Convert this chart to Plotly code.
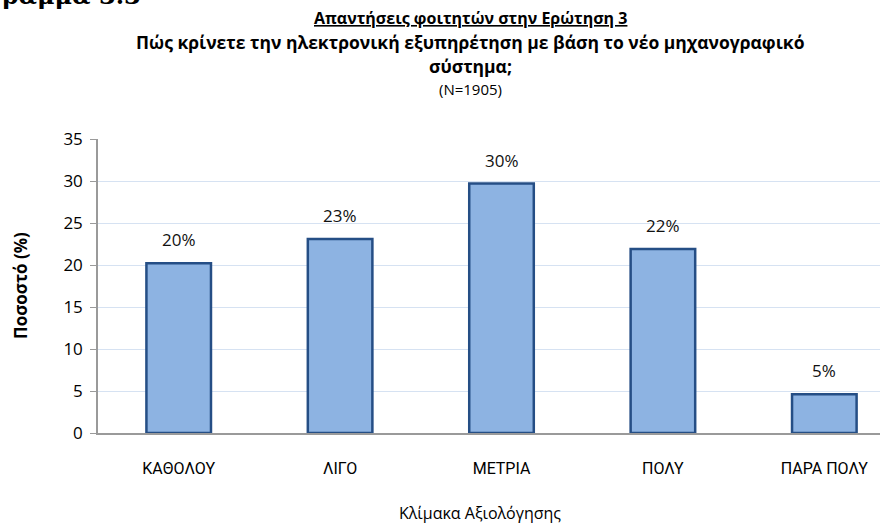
import plotly.graph_objects as go

# Survey responses, question 3 (N=1905)
categories = ["ΚΑΘΟΛΟΥ", "ΛΙΓΟ", "ΜΕΤΡΙΑ", "ΠΟΛΥ", "ΠΑΡΑ ΠΟΛΥ"]
percentages = [20.2, 23.1, 29.7, 21.9, 4.6]
y_ticks = [0, 5, 10, 15, 20, 25, 30, 35]

W, H = 880, 527
L, R, T, B = 98, 0, 139, 94
PW, PH = W - L - R, H - T - B

def px_x(px):
    return (px - L) / PW

def px_y(py):
    return (H - B - py) / PH

FONT = "Open Sans"
CAT_FONT = "Roboto"
BAR_FILL = "#8DB3E2"
BAR_LINE = "#254E85"
GRID = "#D6E2F2"

fig = go.Figure()
fig.add_trace(go.Bar(
    x=list(range(len(categories))),
    y=percentages,
    width=0.4,
    marker=dict(color=BAR_FILL, line=dict(color=BAR_LINE, width=2.5)),
    hoverinfo="skip",
))

annotations = []
for i, v in enumerate(percentages):
    annotations.append(dict(
        x=i, y=v, xref="x", yref="y", text=f"{v:.0f}%",
        showarrow=False, yanchor="bottom", yshift=10,
        font=dict(family=FONT, size=17, color="#111111"),
    ))

title_lines = [
    ("<b><u>Απαντήσεις φοιτητών στην Ερώτηση 3</u></b>", 18, 16),
    ("<b>Πώς κρίνετε την ηλεκτρονική εξυπηρέτηση με βάση το νέο μηχανογραφικό</b>", 42, 17.5),
    ("<b>σύστημα;</b>", 66, 17.5),
    ("(N=1905)", 89, 15),
]
for text, py, size in title_lines:
    annotations.append(dict(
        x=px_x(470), y=px_y(py), xref="paper", yref="paper", text=text,
        showarrow=False, xanchor="center", yanchor="middle",
        font=dict(family=FONT, size=size, color="#000000"),
    ))

# Figure caption running off the top edge of the page
annotations.append(dict(
    x=px_x(143), y=px_y(12), xref="paper", yref="paper",
    text="<b>Διάγραμμα 3.3</b>", showarrow=False,
    xanchor="right", yanchor="bottom",
    font=dict(family="DejaVu Serif", size=24, color="#000000"),
))

annotations.append(dict(
    x=px_x(20), y=px_y(286), xref="paper", yref="paper",
    text="<b>Ποσοστό (%)</b>", showarrow=False, textangle=-90,
    xanchor="center", yanchor="middle",
    font=dict(family=FONT, size=17, color="#000000"),
))
annotations.append(dict(
    x=px_x(480), y=px_y(513), xref="paper", yref="paper",
    text="Κλίμακα Αξιολόγησης", showarrow=False,
    xanchor="center", yanchor="middle",
    font=dict(family=FONT, size=16, color="#000000"),
))

fig.update_layout(
    width=W, height=H,
    margin=dict(l=L, r=R, t=T, b=B, pad=0),
    paper_bgcolor="white", plot_bgcolor="white",
    showlegend=False,
    annotations=annotations,
    bargap=0.6,
)
fig.update_xaxes(
    tickmode="array", tickvals=list(range(len(categories))), ticktext=categories,
    range=[-0.5, 4.345], showgrid=False, zeroline=False,
    showline=True, linecolor="#9A9A9A", linewidth=1.5,
    ticks="", ticklabelstandoff=20,
    tickfont=dict(family=CAT_FONT, size=16, color="#000000"),
    fixedrange=True,
)
fig.update_yaxes(
    range=[0, 35], tickmode="array", tickvals=y_ticks,
    showgrid=True, gridcolor=GRID, gridwidth=1, zeroline=False,
    showline=True, linecolor="#9A9A9A", linewidth=1.5,
    ticks="outside", ticklen=6, tickcolor="#9A9A9A", tickwidth=1,
    ticklabelstandoff=4,
    tickfont=dict(family=FONT, size=17, color="#000000"),
    fixedrange=True,
)

fig.write_html("out.html", config={"displayModeBar": False})
